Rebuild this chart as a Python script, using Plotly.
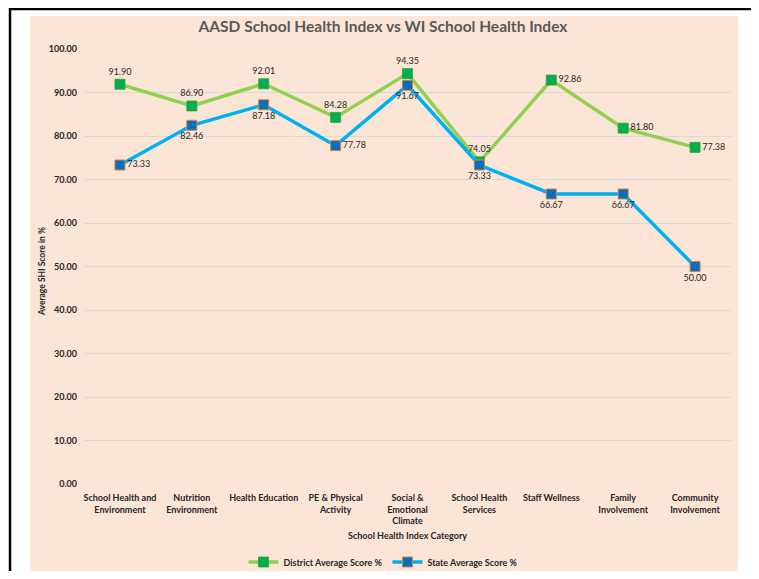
import plotly.graph_objects as go

categories = [
    "School Health and<br>Environment",
    "Nutrition<br>Environment",
    "Health Education",
    "PE & Physical<br>Activity",
    "Social &<br>Emotional<br>Climate",
    "School Health<br>Services",
    "Staff Wellness",
    "Family<br>Involvement",
    "Community<br>Involvement",
]
district = [91.90, 86.90, 92.01, 84.28, 94.35, 74.05, 92.86, 81.80, 77.38]
state = [73.33, 82.46, 87.18, 77.78, 91.67, 73.33, 66.67, 66.67, 50.00]
district_pos = ["top center"] * 6 + ["middle right"] * 3
state_pos = ["middle right", "bottom center", "bottom center", "middle right",
             "bottom center", "bottom center", "bottom center", "bottom center",
             "bottom center"]
y_ticks = [0, 10, 20, 30, 40, 50, 60, 70, 80, 90, 100]

# The page places the figure 8px from the top-left corner (body margin),
# so the figure is laid out in coordinates shifted by that offset.
OFF = 8
W, H = 751, 563
L, R, T, B = 84 - OFF, 731 - OFF, 49 - OFF, 484 - OFF  # plot area (figure px)


def px(xs):
    return (xs - OFF - L) / (R - L)


def py(ys):
    return (B - (ys - OFF)) / (B - T)


FONT = "Lato"
x_idx = list(range(len(categories)))

fig = go.Figure()
fig.add_trace(go.Scatter(
    x=x_idx, y=district, name="District Average Score %",
    mode="lines+markers+text",
    line=dict(color="#92D050", width=3.5),
    marker=dict(symbol="square", size=10, color="#00B050",
                line=dict(color="#3E9A3A", width=0.8)),
    text=[f"{v:.2f}" for v in district], textposition=district_pos,
    textfont=dict(family=FONT, size=9, color="#262626"),
    cliponaxis=False,
))
fig.add_trace(go.Scatter(
    x=x_idx, y=state, name="State Average Score %",
    mode="lines+markers+text",
    line=dict(color="#00B0F0", width=3.5),
    marker=dict(symbol="square", size=10, color="#0070C0",
                line=dict(color="#ED7D31", width=1)),
    text=[f"{v:.2f}" for v in state], textposition=state_pos,
    textfont=dict(family=FONT, size=9, color="#262626"),
    cliponaxis=False,
))

shapes = [
    dict(type="rect", xref="paper", yref="paper",
         x0=px(30), x1=px(738), y0=py(573), y1=py(16),
         fillcolor="#FBE5D6", line=dict(width=0), layer="below"),
    dict(type="rect", xref="paper", yref="paper",
         x0=px(10), x1=px(756.5), y0=py(620), y1=py(9),
         fillcolor="rgba(0,0,0,0)", line=dict(color="black", width=2.5),
         layer="below"),
]

annotations = [
    dict(text="Average SHI Score in %", xref="paper", yref="paper",
         x=px(42), y=py(272), showarrow=False, textangle=-90,
         font=dict(family=FONT, size=8.5, color="#262626", weight="bold"),
         xanchor="center", yanchor="middle"),
    dict(text="School Health Index Category", xref="paper", yref="paper",
         x=px(407), y=py(535), showarrow=False,
         font=dict(family=FONT, size=9, color="#262626", weight="bold"),
         xanchor="center", yanchor="middle"),
]

fig.update_layout(
    width=W, height=H,
    margin=dict(l=L, r=W - R, t=T, b=H - B, pad=0, autoexpand=False),
    paper_bgcolor="white", plot_bgcolor="rgba(0,0,0,0)",
    title=dict(text="AASD School Health Index vs WI School Health Index",
               x=(383 - OFF) / W, y=1 - (27 - OFF) / H,
               xref="container", yref="container",
               xanchor="center", yanchor="middle", automargin=False,
               font=dict(family=FONT, size=15.5, color="#595959", weight="bold")),
    xaxis=dict(range=[-0.5, len(categories) - 0.5], tickmode="array",
               tickvals=x_idx, ticktext=categories, showgrid=False,
               zeroline=False, showline=False, ticks="", automargin=False,
               ticklabelstandoff=7,
               tickfont=dict(family=FONT, size=9, color="#262626", weight="bold")),
    yaxis=dict(range=[0, 100], tickvals=y_ticks,
               ticktext=[f"{v:.2f}" for v in y_ticks],
               showgrid=True, gridcolor="#D9D9D9", gridwidth=1,
               zeroline=False, showline=False, ticks="", ticklabelstandoff=6,
               automargin=False,
               tickfont=dict(family=FONT, size=9, color="#262626", weight="bold")),
    legend=dict(orientation="h", x=(383 - OFF) / W, y=1 - (562 - OFF) / H,
                xref="container", yref="container",
                xanchor="center", yanchor="middle",
                bgcolor="rgba(0,0,0,0)",
                font=dict(family=FONT, size=9, color="#262626", weight="bold"),
                itemwidth=30),
    shapes=shapes, annotations=annotations,
    showlegend=True,
)

fig.write_html("out.html")
